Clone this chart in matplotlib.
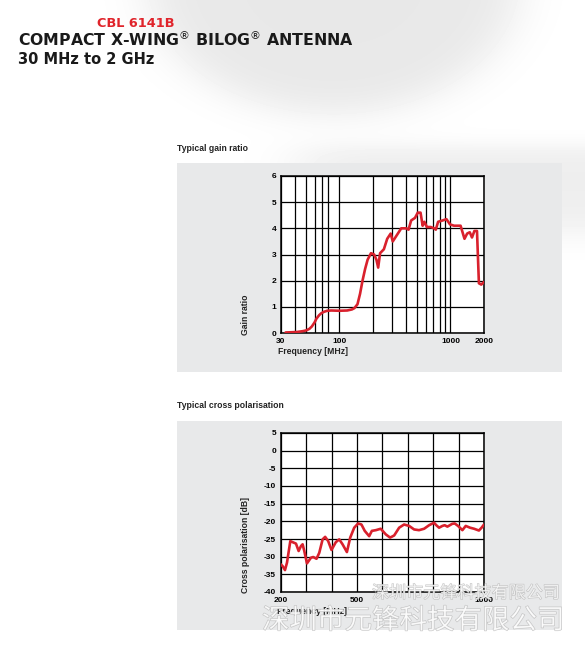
import numpy as np
import matplotlib
matplotlib.use('Agg')
import matplotlib.pyplot as plt
from matplotlib.patches import Rectangle
import matplotlib.patheffects as pe

plt.rcParams['axes.unicode_minus'] = False

# gain ratio data (frequency MHz, gain)
gain_freq = [33, 38, 42, 47, 50.6, 54, 56.8, 60, 62.5, 66, 68.8, 73, 78, 85, 100, 118, 130, 137,
             146, 154, 162, 171, 180, 193, 206, 216, 224, 233, 252, 270, 290, 303, 325, 361,
             400, 420, 443, 480, 508, 538, 562, 582, 614, 665, 713, 738, 774, 848, 920, 990,
             1076, 1232, 1336, 1411, 1490, 1560, 1640, 1730, 1800, 1890, 2000]
gain_val = [0.02, 0.03, 0.04, 0.07, 0.1, 0.16, 0.25, 0.4, 0.55, 0.68, 0.75, 0.81, 0.85, 0.86, 0.85,
            0.86, 0.9, 0.95, 1.1, 1.5, 2.0, 2.45, 2.8, 3.05, 3.0, 2.8, 2.5, 3.05, 3.2, 3.6, 3.8,
            3.5, 3.7, 4.0, 4.0, 3.95, 4.3, 4.4, 4.6, 4.6, 4.1, 4.25, 4.05, 4.05, 4.0, 3.95, 4.25,
            4.3, 4.35, 4.15, 4.1, 4.1, 3.6, 3.8, 3.85, 3.65, 3.9, 3.9, 1.9, 1.85, 1.95]
gain_xticks = [30, 100, 1000, 2000]
gain_xgrid = [40, 50, 60, 70, 80, 200, 300, 400, 500, 600, 700, 800, 900]
gain_yticks = [0, 1, 2, 3, 4, 5, 6]

# cross polarisation data (frequency MHz, dB)
xpol_freq = [200, 206.6, 215.7, 223.6, 236.7, 245.9, 259, 269.5, 278.7, 285.2, 291.8, 302.3,
             318, 327, 340, 350.8, 364, 374, 386, 399, 416, 429.5, 442.6, 459.7, 472.8, 488.5,
             504, 517, 530, 547.5, 558, 573.8, 593, 613, 630, 646, 665.6, 685, 705, 724.6, 744,
             764, 783.6, 803, 812, 823, 836, 845, 855.7, 875, 884.6, 897.7, 914.8, 928, 945,
             961, 980, 990.5, 1000]
xpol_val = [-32.2, -32.7, -33.8, -31.7, -25.6, -25.9, -26.3, -28.4, -27.0, -26.5, -28.4, -31.9,
            -30.3, -30.1, -30.6, -28.9, -25.1, -24.4, -25.6, -28.1, -25.9, -25.1, -26.5, -28.7,
            -24.6, -21.8, -20.6, -20.9, -22.7, -24.2, -22.7, -22.5, -22.1, -23.7, -24.6, -24.0,
            -21.8, -20.9, -21.3, -22.3, -22.5, -22.1, -21.1, -20.4, -21.1, -21.8, -21.3, -21.1,
            -21.5, -20.7, -20.6, -21.3, -22.5, -21.3, -21.8, -22.1, -22.6, -21.8, -20.9]
xpol_xticks = [200, 500, 1000]
xpol_xgrid = [300, 400, 600, 700, 800, 900]
xpol_yticks = [5, 0, -5, -10, -15, -20, -25, -30, -35, -40]

W, H = 585, 645
RED = '#d9212d'
PANEL = '#e8e9ea'

fig = plt.figure(figsize=(W / 100, H / 100), dpi=100)
fig.patch.set_facecolor('white')


def sig(v):
    return 1 / (1 + np.exp(-v))


# soft grey shapes of the brochure background
bg = fig.add_axes([0, 0, 1, 1], zorder=-10)
yy, xx = np.mgrid[0:H, 0:W].astype(float)
r = np.hypot((xx - 333) / 185, (yy + 20) / 133)
blob = sig((1 - r) / 0.08)
band = 0.75 * sig((yy - 146) / 6) * sig((232 - yy) / 10) * sig((xx - 300) / 20)
shade = np.clip(blob + band, 0, 1)
img = 1 - 0.09 * shade
bg.imshow(img, cmap='gray', vmin=0, vmax=1, aspect='auto', extent=[0, W, H, 0])
bg.set_xlim(0, W)
bg.set_ylim(H, 0)
bg.axis('off')


def px(x, y):
    return x / W, 1 - y / H


# grey panels
for top, bottom in [(163, 372), (421, 630)]:
    fig.patches.append(Rectangle(px(177, bottom), (562 - 177) / W, (bottom - top) / H,
                                 transform=fig.transFigure, facecolor=PANEL,
                                 edgecolor='none', zorder=-5))

# title block
title_font = dict(family='DejaVu Sans', weight='bold')
fig.text(*px(97, 27), 'CBL 6141B', color='#e0242b', fontsize=9.3, va='baseline', **title_font)
fig.text(*px(18, 46), 'COMPACT X-WING$^{®}$ BILOG$^{®}$ ANTENNA', color='#1a1a1a',
         fontsize=11.3, va='baseline', **title_font)
fig.text(*px(18, 64), '30 MHz to 2 GHz', color='#1a1a1a', fontsize=10.5,
         va='baseline', **title_font)

lab_font = dict(family='Liberation Sans', weight='bold', color='#222222')
fig.text(*px(177, 148), 'Typical gain ratio', fontsize=6.2, va='center', **lab_font)
fig.text(*px(177, 406), 'Typical cross polarisation', fontsize=6.2, va='center', **lab_font)


def style_axes(ax):
    ax.set_facecolor('white')
    for s in ax.spines.values():
        s.set_linewidth(1.1)
        s.set_color('black')
    ax.grid(True, which='both', color='black', linewidth=0.9)
    ax.set_axisbelow(True)
    ax.tick_params(which='both', length=0, pad=3.5, labelsize=6)
    for lab in ax.get_xticklabels() + ax.get_yticklabels():
        lab.set_fontfamily('Liberation Sans')
        lab.set_fontweight('bold')


# gain ratio chart
ax1 = fig.add_axes([281 / W, 1 - 333 / H, 203 / W, 157 / H])
ax1.plot(gain_freq, gain_val, color=RED, linewidth=1.9, solid_capstyle='round', zorder=3)
ax1.set_xscale('log')
ax1.set_xlim(30, 2000)
ax1.set_ylim(0, 6)
ax1.set_xticks(gain_xticks)
ax1.set_xticklabels([str(t) for t in gain_xticks])
ax1.set_xticks(gain_xgrid, minor=True)
ax1.set_xticklabels([], minor=True)
ax1.set_yticks(gain_yticks)
style_axes(ax1)
fig.text(*px(246, 335), 'Gain ratio', rotation=90, ha='center', va='bottom',
         fontsize=6.2, **lab_font)
fig.text(*px(278, 352), 'Frequency [MHz]', ha='left', va='center', fontsize=6.2, **lab_font)

# cross polarisation chart
ax2 = fig.add_axes([281 / W, 1 - 592 / H, 203 / W, 159 / H])
ax2.plot(xpol_freq, xpol_val, color=RED, linewidth=1.9, solid_capstyle='round', zorder=3)
ax2.set_xlim(200, 1000)
ax2.set_ylim(-40, 5)
ax2.set_xticks(xpol_xticks)
ax2.set_xticks(xpol_xgrid, minor=True)
ax2.set_yticks(xpol_yticks)
style_axes(ax2)
fig.text(*px(245, 593), 'Cross polarisation [dB]', rotation=90, ha='center', va='bottom',
         fontsize=6.2, **lab_font)
fig.text(*px(277, 612), 'Frequency [MHz]', ha='left', va='center', fontsize=6.2, **lab_font)

# watermark
wm = '深圳市元锋科技有限公司'
stroke = [pe.withStroke(linewidth=0.8, foreground='#b0b0b0')]
fig.text(*px(372, 593), wm, family='Noto Sans CJK SC', fontsize=12.3, color='white',
         alpha=0.7, va='center', path_effects=stroke, zorder=10)
fig.text(*px(262, 621), wm, family='Noto Sans CJK SC', fontsize=19.8, color='white',
         alpha=0.7, va='center', path_effects=stroke, zorder=10)

fig.savefig('out.png', dpi=100)
